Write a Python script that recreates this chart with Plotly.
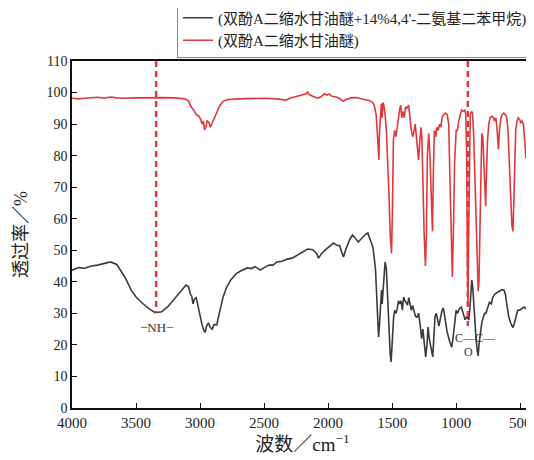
import plotly.graph_objects as go

# ---- data ----
black_wn = [4000, 3950, 3900, 3850, 3800, 3750, 3700, 3650, 3620, 3580, 3540, 3500, 3450, 3400, 3350,
            3300, 3250, 3200, 3150, 3110, 3090, 3075, 3065, 3055, 3045, 3030, 3015, 3000, 2985, 2970,
            2960, 2950, 2935, 2920, 2905, 2890, 2870, 2850, 2820, 2790, 2760, 2720, 2680, 2630, 2600,
            2570, 2530, 2500, 2460, 2430, 2400, 2360, 2320, 2280, 2240, 2200, 2160, 2120, 2090, 2075,
            2050, 2010, 1980, 1958, 1930, 1910, 1895, 1880, 1860, 1830, 1810, 1790, 1765, 1740, 1710,
            1690, 1670, 1650, 1630, 1615, 1606, 1598, 1590, 1583, 1578, 1572, 1565, 1555, 1545, 1535,
            1525, 1515, 1508, 1500, 1495, 1488, 1480, 1470, 1460, 1450, 1440, 1430, 1420, 1410, 1400,
            1390, 1380, 1370, 1360, 1350, 1340, 1330, 1318, 1305, 1293, 1280, 1270, 1260, 1250, 1238,
            1228, 1220, 1210, 1195, 1183, 1175, 1165, 1155, 1145, 1135, 1125, 1110, 1100, 1090, 1070,
            1050, 1035, 1025, 1010, 1000, 990, 975, 960, 945, 930, 915, 901, 892, 885, 878,
            870, 862, 855, 845, 835, 828, 822, 810, 800, 790, 778, 768, 755, 740, 725,
            715, 700, 690, 675, 660, 645, 627, 615, 605, 590, 575, 557, 548, 535, 520,
            505, 490, 470, 455, 440, 420, 400]
black_t = [43.7, 44.5, 44.3, 45.0, 45.3, 45.8, 46.3, 45.5, 43.7, 41.0, 37.5, 35.2, 33.2, 31.5, 30.2,
           30.5, 32.2, 34.5, 37.0, 39.0, 38.5, 36.0, 35.5, 33.0, 34.5, 35.0, 32.0, 29.0, 26.5, 24.5,
           24.0, 26.0, 27.0, 25.5, 25.0, 26.5, 26.3, 30.0, 35.2, 38.5, 40.6, 42.5, 43.5, 44.4, 44.2,
           44.8, 43.7, 44.5, 45.3, 45.3, 46.3, 46.5, 47.2, 47.5, 48.5, 49.5, 50.4, 50.2, 49.0, 47.5,
           49.0, 50.5, 51.5, 52.3, 51.5, 51.5, 49.5, 47.9, 50.5, 53.5, 54.8, 54.0, 52.6, 53.8, 55.0,
           55.5, 53.5, 51.0, 44.0, 32.0, 22.5, 27.0, 35.0, 37.4, 33.0, 36.0, 42.0, 46.3, 44.0, 35.0,
           24.0, 17.0, 14.6, 20.0, 27.0, 29.0, 31.0, 30.0, 31.5, 34.0, 33.0, 34.0, 31.0, 35.2, 34.0,
           33.0, 32.6, 35.0, 33.0, 31.0, 32.5, 31.0, 29.0, 28.8, 30.0, 26.0, 22.0, 25.0, 20.0, 16.2,
           20.0, 25.7, 22.0, 18.0, 16.2, 22.0, 29.0, 30.0, 28.0, 26.0, 28.0, 31.0, 31.7, 29.0, 24.0,
           21.0, 19.3, 22.0, 28.0, 31.0, 30.0, 31.5, 32.0, 30.0, 28.0, 29.0, 27.9, 32.0, 36.0, 40.6,
           38.0, 32.0, 27.0, 22.0, 18.0, 16.5, 20.0, 24.0, 27.0, 28.5, 30.0, 30.0, 32.0, 33.5, 33.0,
           35.0, 36.0, 36.4, 36.8, 37.0, 37.5, 37.4, 36.0, 33.0, 29.0, 27.0, 25.5, 26.5, 29.0, 31.0,
           31.0, 31.5, 32.0, 31.5, 32.5, 32.8, 32.6]

red_wn = [4000, 3950, 3900, 3850, 3800, 3750, 3700, 3650, 3600, 3500, 3400, 3300, 3200, 3120, 3090,
          3070, 3050, 3030, 3010, 2995, 2985, 2975, 2965, 2955, 2945, 2930, 2920, 2905, 2890, 2870,
          2850, 2820, 2780, 2700, 2600, 2500, 2400, 2330, 2300, 2250, 2200, 2170, 2160, 2150, 2120,
          2080, 2050, 2030, 2010, 1990, 1970, 1930, 1900, 1880, 1860, 1820, 1780, 1750, 1720, 1680,
          1655, 1640, 1625, 1612, 1604, 1598, 1590, 1584, 1578, 1572, 1565, 1555, 1545, 1535, 1525,
          1515, 1505, 1498, 1490, 1480, 1470, 1460, 1450, 1440, 1433, 1425, 1415, 1405, 1395, 1385,
          1371, 1360, 1350, 1340, 1332, 1320, 1310, 1300, 1293, 1285, 1275, 1268, 1260, 1250, 1240,
          1232, 1225, 1214, 1205, 1195, 1185, 1178, 1170, 1160, 1150, 1140, 1130, 1120, 1110, 1100,
          1085, 1070, 1058, 1050, 1040, 1030, 1022, 1012, 1000, 990, 980, 970, 958, 945, 932,
          925, 918, 912, 908, 904, 898, 890, 880, 872, 862, 855, 848, 842, 835, 828,
          822, 815, 808, 800, 792, 785, 778, 770, 765, 755, 745, 735, 720, 710, 700,
          690, 680, 670, 662, 650, 640, 628, 615, 605, 595, 585, 575, 565, 557, 550,
          542, 535, 525, 515, 505, 495, 485, 475, 465, 455, 448, 440, 430, 420, 410, 400]
red_t = [98.2, 98.0, 98.2, 98.3, 98.5, 98.2, 98.6, 98.3, 98.2, 98.3, 98.4, 98.4, 98.3, 98.0, 97.3,
         95.5, 94.5, 93.0, 92.5, 91.5, 90.0, 91.0, 88.2, 89.0, 91.0, 90.5, 89.0, 90.3, 92.0, 93.5,
         95.5, 97.3, 97.8, 98.0, 98.1, 98.2, 98.0, 97.6, 98.2, 98.8, 99.2, 99.6, 100.3, 99.4, 98.8,
         98.2, 98.8, 99.6, 99.2, 99.5, 98.8, 98.5, 97.8, 97.2, 97.8, 98.3, 98.4, 98.0, 97.8, 97.5,
         97.0, 96.0, 93.0, 85.0, 78.6, 88.0, 96.0, 96.5, 92.0, 96.8, 96.0, 93.0, 88.0, 80.0, 68.0,
         55.0, 49.0, 62.0, 85.0, 88.0, 86.0, 89.0, 93.0, 95.0, 96.0, 92.0, 94.0, 92.0, 95.5, 95.0,
         96.0, 91.0, 88.0, 86.0, 87.0, 90.0, 86.0, 80.0, 78.6, 84.0, 89.0, 86.0, 70.0, 55.0, 45.0,
         55.0, 80.0, 87.0, 80.0, 65.0, 56.0, 75.0, 88.0, 86.0, 89.0, 88.0, 90.0, 89.0, 92.0, 93.0,
         93.5, 93.0, 90.0, 75.0, 55.0, 41.5, 55.0, 78.0, 88.0, 88.0, 91.0, 93.0, 94.5, 94.0, 94.5,
         93.0, 80.0, 45.0, 32.0, 50.0, 80.0, 93.0, 94.0, 93.5, 85.0, 75.0, 69.0, 60.0, 45.0, 37.0,
         40.0, 60.0, 80.0, 87.0, 86.0, 80.0, 70.0, 64.0, 72.0, 85.0, 90.0, 92.0, 92.5, 92.0, 91.0,
         92.0, 88.0, 82.0, 88.0, 92.0, 93.0, 93.5, 93.0, 92.0, 88.0, 80.0, 68.0, 58.0, 56.0, 65.0,
         80.0, 88.0, 91.0, 92.0, 91.5, 90.5, 91.0, 90.0, 85.0, 79.0, 84.0, 90.0, 93.0, 94.5, 95.0, 95.5]

series_names = ["(双酚A二缩水甘油醚+14%4,4'-二氨基二苯甲烷)", "(双酚A二缩水甘油醚)"]

# marker (dashed) lines: wavenumber and lower end of each line
guide_wn = [3343, 909]
guide_bottom = [30.2, 26.0]
y_top = 110

# band labels
nh_label = {"text": "−NH−", "wn": 3343, "t": 25.4}
coc_label = {"text": "C—C—", "wn": 846, "t": 22.3}
o_label = {"text": "O", "wn": 901, "t": 17.8}

x_ticks = [4000, 3500, 3000, 2500, 2000, 1500, 1000, 500]
y_ticks = list(range(0, 111, 10))

BLACK = "#3a3a3a"
RED = "#e0393d"
SERIF = "Liberation Serif, Noto Sans CJK SC, serif"

fig = go.Figure()
fig.add_trace(go.Scatter(x=black_wn, y=black_t, mode="lines", name=series_names[0],
                         line=dict(color=BLACK, width=1.6)))
fig.add_trace(go.Scatter(x=red_wn, y=red_t, mode="lines", name=series_names[1],
                         line=dict(color=RED, width=1.6)))
for wn, b in zip(guide_wn, guide_bottom):
    fig.add_trace(go.Scatter(x=[wn, wn], y=[y_top, b], mode="lines", showlegend=False,
                             line=dict(color=RED, width=2.5, dash="6px,4px"), hoverinfo="skip"))

for lab, size in ((nh_label, 13), (coc_label, 12), (o_label, 12)):
    fig.add_annotation(x=lab["wn"], y=lab["t"], text=lab["text"], showarrow=False,
                       font=dict(family=SERIF, size=size, color="#333"))

# page body has an 8px margin, so the figure is sized to fit the 534x460 window
fig.update_layout(
    width=526, height=452,
    margin=dict(l=64, r=1, t=53, b=52, autoexpand=False),
    paper_bgcolor="white", plot_bgcolor="white",
    font=dict(family=SERIF, color="#222"),
    legend=dict(x=1, xanchor="right", y=1.01, yanchor="bottom",
                bordercolor="#888", borderwidth=1, bgcolor="white",
                font=dict(family=SERIF, size=15, color="#222"),
                tracegroupgap=0),
    showlegend=True,
)
fig.update_xaxes(range=[4000, 400], tickvals=x_ticks, ticks="inside", ticklen=5,
                 tickcolor="#111", showline=True, linecolor="#111", linewidth=1.5, mirror=True,
                 showgrid=False, zeroline=False, automargin=False,
                 tickfont=dict(family=SERIF, size=15, color="#222"),
                 title=dict(text="波数／cm<sup>−1</sup>", font=dict(family=SERIF, size=19, color="#222"),
                            standoff=4))
fig.update_yaxes(range=[0, 110], tickvals=y_ticks, ticks="inside", ticklen=5,
                 tickcolor="#111", showline=True, linecolor="#111", linewidth=1.5, mirror=True,
                 showgrid=False, zeroline=False, automargin=False,
                 tickfont=dict(family=SERIF, size=14, color="#222"),
                 title=dict(text="透过率／%", font=dict(family=SERIF, size=18, color="#222"),
                            standoff=14))

fig.write_html("out.html")
